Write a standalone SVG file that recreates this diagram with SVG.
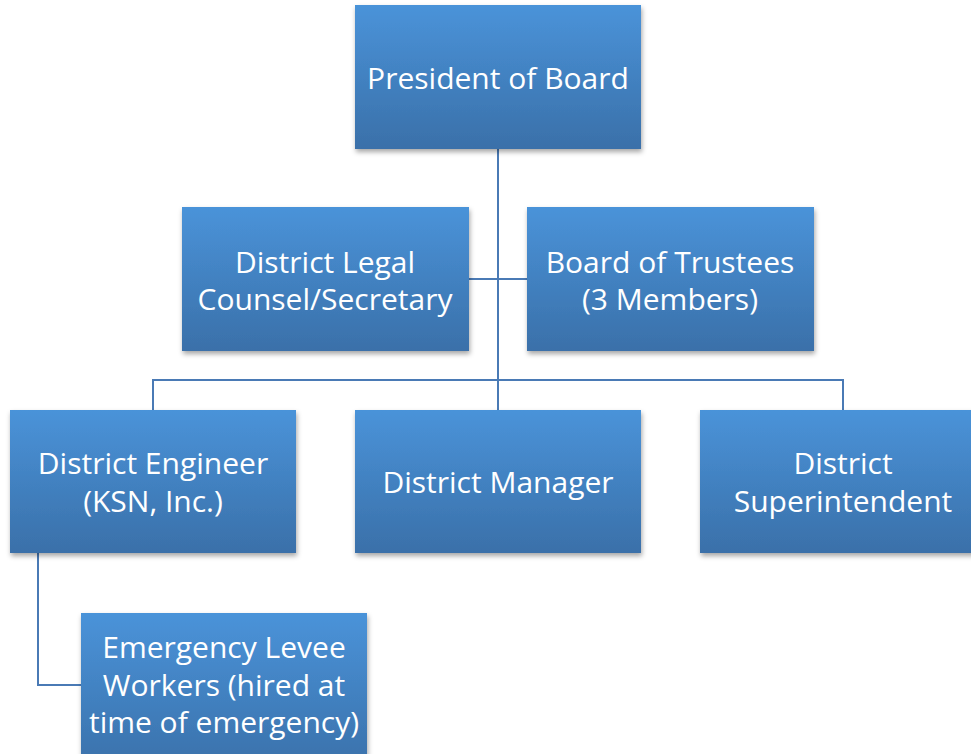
<svg xmlns="http://www.w3.org/2000/svg" width="971" height="754" viewBox="0 0 971 754">
<defs>
<linearGradient id="g" x1="0" y1="0" x2="0" y2="1">
<stop offset="0" stop-color="#4a93d9"/>
<stop offset="1" stop-color="#3a70a9"/>
</linearGradient>
<filter id="sh" x="-10%" y="-10%" width="125%" height="130%">
<feDropShadow dx="1" dy="3" stdDeviation="2.5" flood-color="#000" flood-opacity="0.35"/>
</filter>
</defs>
<style>
.box{fill:url(#g);filter:url(#sh)}
.t{font-family:"Open Sans","Liberation Sans",sans-serif;font-size:30px;fill:#fff;text-anchor:middle}
.c{fill:none;stroke:#4a7ab5;stroke-width:2}
</style>
<rect width="971" height="754" fill="#fff"/>
<g id="connectors">
<path class="c" d="M498 149V410M469 279H527M153 410V380H843V410M38 553V685H81"/>
</g>
<g id="president">
<rect class="box" x="355" y="5" width="286" height="144"/>
<text class="t" x="498" y="89">President of Board</text>
</g>
<g id="legal">
<rect class="box" x="182" y="207" width="287" height="144"/>
<text class="t" x="325" y="273">District Legal</text>
<text class="t" x="325" y="310">Counsel/Secretary</text>
</g>
<g id="trustees">
<rect class="box" x="527" y="207" width="287" height="144"/>
<text class="t" x="670" y="273">Board of Trustees</text>
<text class="t" x="670" y="310">(3 Members)</text>
</g>
<g id="engineer">
<rect class="box" x="10" y="410" width="286" height="143"/>
<text class="t" x="153" y="474">District Engineer</text>
<text class="t" x="153" y="512">(KSN, Inc.)</text>
</g>
<g id="manager">
<rect class="box" x="355" y="410" width="286" height="143"/>
<text class="t" x="498" y="493">District Manager</text>
</g>
<g id="superintendent">
<rect class="box" x="700" y="410" width="286" height="143"/>
<text class="t" x="843" y="474">District</text>
<text class="t" x="843" y="512">Superintendent</text>
</g>
<g id="emergency">
<rect class="box" x="81" y="613" width="286" height="160"/>
<text class="t" x="224" y="658">Emergency Levee</text>
<text class="t" x="224" y="696">Workers (hired at</text>
<text class="t" x="224" y="733">time of emergency)</text>
</g>
</svg>
